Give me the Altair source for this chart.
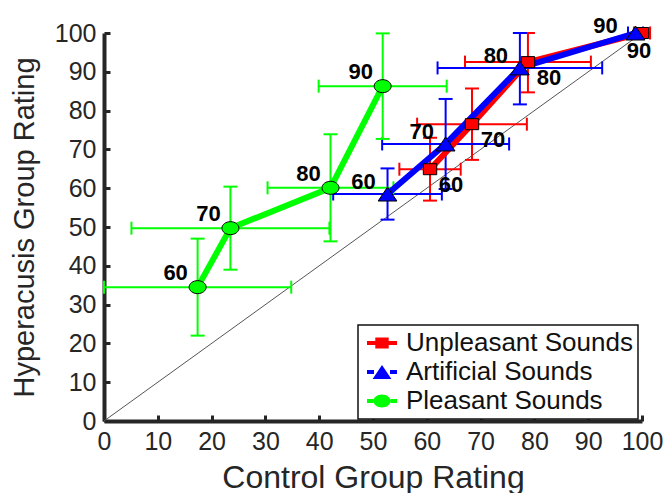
import altair as alt
import pandas as pd

# ---------------- data ----------------
series_names = ["Unpleasant Sounds", "Artificial Sounds", "Pleasant Sounds"]
series_colors = ["#ff0000", "#0000ff", "#00ff00"]
levels = ["60", "70", "80", "90"]
tick_values = [0, 10, 20, 30, 40, 50, 60, 70, 80, 90, 100]

unpleasant_x = [60.6, 68.4, 78.8, 100.0]
unpleasant_y = [64.9, 76.5, 92.5, 100.0]
unpleasant_xerr = [5.7, 10.2, 11.7, 1.5]
unpleasant_yerr = [8.1, 9.2, 7.8, 1.0]

artificial_x = [52.7, 63.5, 77.3, 98.8]
artificial_y = [58.5, 71.4, 91.0, 100.0]
artificial_xerr = [10.1, 11.8, 15.3, 1.4]
artificial_yerr = [6.6, 11.6, 9.4, 1.5]

pleasant_x = [17.4, 23.5, 42.1, 51.8]
pleasant_y = [34.5, 49.7, 60.1, 86.3]
pleasant_xerr = [17.4, 18.4, 11.7, 11.9]
pleasant_yerr = [12.5, 10.7, 13.8, 13.6]

diag_values = [0, 100]

# marker shapes (square, triangle, circle), stretched as in the figure
marker_paths = [
    "M-0.67,-0.55H0.67V0.55H-0.67Z",
    "M0,-0.7L0.94,0.7H-0.94Z",
    "M-0.85,0A0.85,0.65,0,1,1,0.85,0A0.85,0.65,0,1,1,-0.85,0Z",
]
# legend symbols: short line stubs on both sides + marker
STUBS = ["M-1.5,-0.2H-0.67V0.2H-1.5Z M0.67,-0.2H1.5V0.2H0.67Z ",
         "M-1.5,-0.2H-0.8V0.2H-1.5Z M0.8,-0.2H1.5V0.2H0.8Z ",
         "M-1.5,-0.2H-0.85V0.2H-1.5Z M0.85,-0.2H1.5V0.2H0.85Z "]
legend_paths = [s + p for s, p in zip(STUBS, marker_paths)]
VCAP = "M0,-1V1"
HCAP = "M-1,0H1"

rows = []
for name, xs_, ys_, xe_, ye_ in [
    (series_names[0], unpleasant_x, unpleasant_y, unpleasant_xerr, unpleasant_yerr),
    (series_names[1], artificial_x, artificial_y, artificial_xerr, artificial_yerr),
    (series_names[2], pleasant_x, pleasant_y, pleasant_xerr, pleasant_yerr),
]:
    for lv, a, b, c, d in zip(levels, xs_, ys_, xe_, ye_):
        rows.append({"series": name, "x": a, "y": b, "xerr": c, "yerr": d, "label": lv})
df = pd.DataFrame(rows)
diag = pd.DataFrame({"v": diag_values})

# ---------------- styling ----------------
W, H = 538, 388
FONT = "Liberation Sans"
AXC = "#262626"

xs = alt.Scale(domain=[0, 100], nice=False)
ys = alt.Scale(domain=[0, 100], nice=False)

legend = alt.Legend(
    orient="none", legendX=254, legendY=292, title=None,
    symbolSize=400, symbolOffset=6, symbolStrokeColor="black",
    symbolStrokeWidth=0.8, symbolOpacity=1,
    labelFontSize=26, labelFont=FONT, labelColor="#111111",
    labelLimit=600, labelOffset=11, padding=5, rowPadding=3,
    strokeColor="#111111", fillColor="white",
)

no_axis_x = lambda f: alt.X(f, type="quantitative", scale=xs, axis=None)
no_axis_y = lambda f: alt.Y(f, type="quantitative", scale=ys, axis=None)


def sel(i):
    return f"datum.series == '{series_names[i]}'"


base = alt.Chart(df).transform_calculate(
    xlo="datum.x - datum.xerr",
    xhi="datum.x + datum.xerr",
    ylo="datum.y - datum.yerr",
    yhi="min(100, datum.y + datum.yerr)",
)

# diagonal reference line, carrying the inward tick axes
diag_layer = alt.Chart(diag).mark_line(color="#555555", strokeWidth=1).encode(
    x=alt.X("v:Q", scale=xs, axis=alt.Axis(
        orient="top", offset=-H, labels=False, domain=False, grid=False,
        values=tick_values, tickSize=6, tickWidth=3, tickColor=AXC, title=None)),
    y=alt.Y("v:Q", scale=ys, axis=alt.Axis(
        orient="right", offset=-W, labels=False, domain=False, grid=False,
        values=tick_values, tickSize=6, tickWidth=3, tickColor=AXC, title=None)),
)


def error_layers(i):
    b = base.transform_filter(sel(i))
    c = series_colors[i]
    hbar = b.mark_rule(strokeWidth=2, color=c).encode(
        x=no_axis_x("xlo"), x2="xhi:Q", y=no_axis_y("y"))
    hcap = b.transform_fold(["xlo", "xhi"], as_=["end", "xe"]).mark_point(
        shape=VCAP, size=169, strokeWidth=2, filled=False, opacity=1, color=c).encode(
        x=no_axis_x("xe"), y=no_axis_y("y"))
    vbar = b.mark_rule(strokeWidth=2, color=c).encode(
        x=no_axis_x("x"), y=no_axis_y("ylo"), y2="yhi:Q")
    vcap = b.transform_fold(["ylo", "yhi"], as_=["end", "ye"]).mark_point(
        shape=HCAP, size=196, strokeWidth=2, filled=False, opacity=1, color=c).encode(
        x=no_axis_x("x"), y=no_axis_y("ye"))
    return [hbar, hcap, vbar, vcap]


errors = [lay for i in range(3) for lay in error_layers(i)]

x_main = alt.X("x:Q", scale=xs, axis=alt.Axis(
    orient="bottom", values=tick_values, format="d", ticks=False,
    domainWidth=4, domainColor=AXC, labelFontSize=25, labelFlush=False,
    labelOverlap=False, labelPadding=8, title="Control Group Rating",
    titleFontSize=32, titleFontWeight="normal", titlePadding=8, grid=False))
y_main = alt.Y("y:Q", scale=ys, axis=alt.Axis(
    orient="left", values=tick_values, format="d", ticks=False,
    domainWidth=4, domainColor=AXC, labelFontSize=25, labelFlush=False,
    labelOverlap=False, labelPadding=8, title="Hyperacusis Group Rating",
    titleFontSize=29, titleFontWeight="normal", titlePadding=15, grid=False))


def line_layer(i):
    ch = alt.Chart(df).transform_filter(sel(i)).mark_line(
        strokeWidth=6, color=series_colors[i])
    if i == 0:
        return ch.encode(x=x_main, y=y_main, order=alt.Order("x:Q"))
    return ch.encode(x=no_axis_x("x"), y=no_axis_y("y"), order=alt.Order("x:Q"))


lines = [line_layer(i) for i in range(3)]

# tiny marks hidden under the markers; they only carry the legend
legend_layer = alt.Chart(df).mark_point(
    filled=True, size=1, strokeWidth=0, opacity=1).encode(
    x=no_axis_x("x"), y=no_axis_y("y"),
    color=alt.Color("series:N", scale=alt.Scale(domain=series_names, range=series_colors),
                    legend=legend),
    shape=alt.Shape("series:N", scale=alt.Scale(domain=series_names, range=legend_paths),
                    legend=legend),
)


def point_layer(i):
    return alt.Chart(df).transform_filter(sel(i)).mark_point(
        filled=True, size=400, stroke="black", strokeWidth=1, opacity=1,
        fill=series_colors[i], shape=marker_paths[i]).encode(
        x=no_axis_x("x"), y=no_axis_y("y"))


points = [point_layer(i) for i in range(3)]


def label_layer(cond, dx, dy):
    return alt.Chart(df).transform_filter(cond).mark_text(
        font=FONT, fontSize=22, fontWeight="bold", color="black",
        dx=dx, dy=dy, align="center", baseline="middle").encode(
        x=no_axis_x("x"), y=no_axis_y("y"), text="label:N")


labels = [
    label_layer(sel(2), -22, -14),
    label_layer(sel(1) + " && datum.label != '90'", -24, -12),
    label_layer(sel(1) + " && datum.label == '90'", -30, -7),
    label_layer(sel(0) + " && datum.label != '90'", 21, 16),
    label_layer(sel(0) + " && datum.label == '90'", -3, 18),
]

chart = alt.layer(
    diag_layer, *errors, *lines, legend_layer, *points, *labels
).resolve_axis(x="independent", y="independent").properties(
    width=W, height=H,
    autosize=alt.AutoSizeParams(type="none"),
    padding={"left": 104, "top": 33, "right": 26, "bottom": 72},
).configure_axis(
    labelFont=FONT, titleFont=FONT, labelColor=AXC, titleColor=AXC,
).configure_view(strokeWidth=0).configure_legend(strokeWidth=1.5)

chart.save("out.html", embed_options={"renderer": "svg", "actions": False})
